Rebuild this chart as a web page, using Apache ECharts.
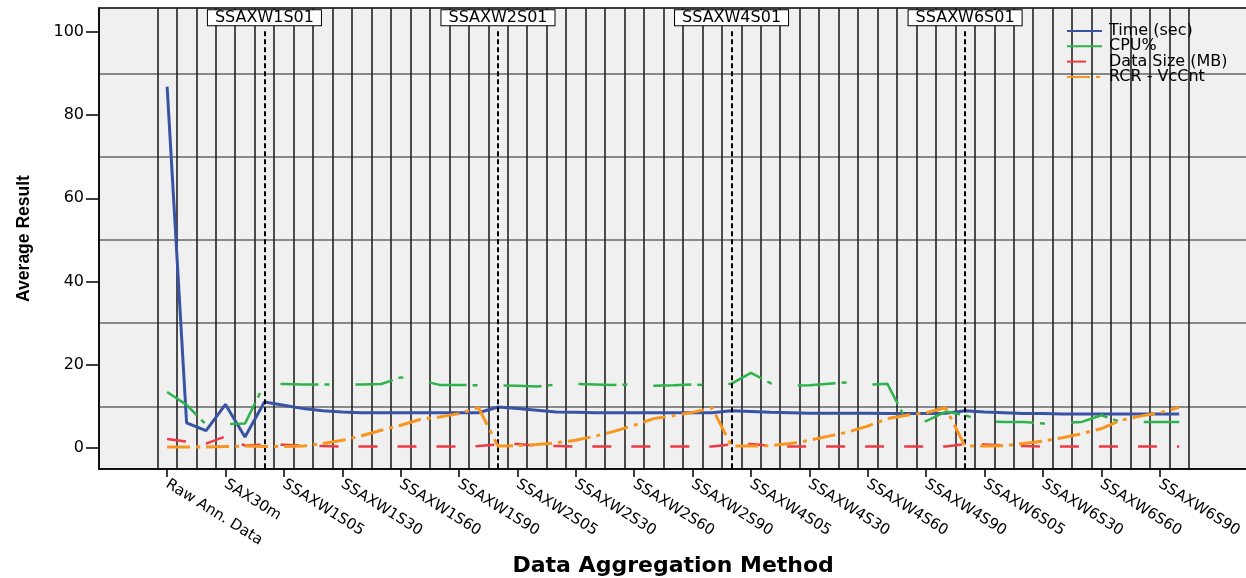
<!DOCTYPE html>
<html>
<head>
<meta charset="utf-8">
<script src="https://cdn.jsdelivr.net/npm/echarts@6/dist/echarts.min.js"></script>
<style>
html,body{margin:0;padding:0;background:#fff;}
#chart{width:1246px;height:578px;}
</style>
</head>
<body>
<div id="chart"></div>
<script>
// ---- data ----
const categories = [
  'Raw Ann. Data','SAX05m','SAX15m','SAX30m','SAX60m',
  'SSAXW1S01','SSAXW1S05','SSAXW1S10','SSAXW1S20','SSAXW1S30','SSAXW1S40','SSAXW1S50','SSAXW1S60','SSAXW1S70','SSAXW1S80','SSAXW1S90','SSAXW1S99',
  'SSAXW2S01','SSAXW2S05','SSAXW2S10','SSAXW2S20','SSAXW2S30','SSAXW2S40','SSAXW2S50','SSAXW2S60','SSAXW2S70','SSAXW2S80','SSAXW2S90','SSAXW2S99',
  'SSAXW4S01','SSAXW4S05','SSAXW4S10','SSAXW4S20','SSAXW4S30','SSAXW4S40','SSAXW4S50','SSAXW4S60','SSAXW4S70','SSAXW4S80','SSAXW4S90','SSAXW4S99',
  'SSAXW6S01','SSAXW6S05','SSAXW6S10','SSAXW6S20','SSAXW6S30','SSAXW6S40','SSAXW6S50','SSAXW6S60','SSAXW6S70','SSAXW6S80','SSAXW6S90','SSAXW6S99'
];
const timeSec = [
  86.8, 6.1, 4.2, 10.5, 2.7,
  11.1, 10.3, 9.5, 9.0, 8.7, 8.5, 8.5, 8.5, 8.5, 8.5, 8.5, 8.5,
  9.9, 9.5, 9.1, 8.7, 8.6, 8.5, 8.5, 8.5, 8.5, 8.5, 8.5, 8.5,
  9.0, 8.8, 8.6, 8.5, 8.4, 8.4, 8.4, 8.4, 8.3, 8.3, 8.3, 8.4,
  9.0, 8.7, 8.5, 8.3, 8.3, 8.2, 8.2, 8.2, 8.2, 8.2, 8.2, 8.2
];
const cpuPct = [
  13.5, 10.4, 5.7, 5.8, 5.9,
  15.4, 15.4, 15.3, 15.3, 15.3, 15.3, 15.4, 17.0, 16.3, 15.2, 15.2, 15.1,
  15.1, 15.0, 14.8, 15.3, 15.4, 15.3, 15.2, 15.3, 15.0, 15.1, 15.3, 15.1,
  15.5, 18.1, 15.6, 15.0, 15.1, 15.5, 15.8, 15.2, 15.5, 6.5, 6.5, 8.8,
  7.9, 6.4, 6.3, 6.3, 5.9, 6.1, 6.3, 7.9, 6.3, 6.3, 6.3, 6.3
];
const dataSizeMB = [
  2.2, 1.6, 1.1, 2.8, 0.6,
  0.9, 0.8, 0.6, 0.5, 0.4, 0.4, 0.4, 0.4, 0.4, 0.4, 0.4, 0.5,
  0.9, 1.0, 0.6, 0.5, 0.4, 0.4, 0.4, 0.4, 0.4, 0.4, 0.4, 0.4,
  0.9, 1.0, 0.6, 0.4, 0.4, 0.4, 0.4, 0.4, 0.4, 0.4, 0.4, 0.4,
  1.0, 0.9, 0.7, 0.5, 0.4, 0.4, 0.4, 0.4, 0.4, 0.4, 0.4, 0.4
];
const rcrVcCnt = [
  0.3, 0.3, 0.3, 0.4, 0.5,
  0.4, 0.4, 0.5, 1.1, 1.9, 3.0, 4.3, 5.5, 6.9, 7.5, 8.3, 9.7,
  0.5, 0.6, 0.9, 1.3, 1.9, 2.9, 4.1, 5.5, 7.1, 7.8, 8.6, 9.7,
  0.5, 0.5, 0.6, 1.1, 1.9, 2.9, 3.9, 5.3, 7.1, 7.9, 8.5, 9.7,
  0.5, 0.5, 0.6, 1.1, 1.7, 2.5, 3.5, 4.7, 6.7, 7.7, 8.5, 9.8
];
const seriesNames = ['Time (sec)', 'CPU%', 'Data Size (MB)', 'RCR - VcCnt'];
const markerCategories = ['SSAXW1S01', 'SSAXW2S01', 'SSAXW4S01', 'SSAXW6S01'];
const yTickValues = [0, 20, 40, 60, 80, 100];
const yGridValues = [10, 30, 50, 70, 90];

// ---- layout ----
const PAD = 3;
const BAND = 19.463;
const GRID_LEFT = 99, GRID_TOP = 8, GRID_H = 461;
const Y_MIN = -5, Y_MAX = 105.7;
const axisCats = [];
for (let i = 0; i < PAD; i++) axisCats.push('padL' + i);
categories.forEach(c => axisCats.push(c));
for (let i = 0; i < PAD; i++) axisCats.push('padR' + i);
const nReal = categories.length;
const GRID_W = BAND * (nReal + 2 * PAD);
const labelIdx = (idx) => idx >= PAD && idx < PAD + nReal && (idx - PAD) % 3 === 0;
const yPix = v => GRID_TOP + (Y_MAX - v) / (Y_MAX - Y_MIN) * GRID_H;
// overlay grid used only to draw the horizontal grid lines between the ticks
const gLo = Math.min(...yGridValues), gHi = Math.max(...yGridValues);
const gStep = yGridValues[1] - yGridValues[0];

const toPairs = arr => categories.map((c, i) => [c, arr[i]]);
const font = 'DejaVu Sans';

const chart = echarts.init(document.getElementById('chart'), null, {renderer: 'canvas'});
chart.setOption({
  animation: false,
  backgroundColor: '#fff',
  grid: [
    {
      left: GRID_LEFT, top: GRID_TOP, width: GRID_W, height: GRID_H,
      outerBoundsMode: 'none', containLabel: false,
      show: true, backgroundColor: '#F0F0F0', borderColor: '#000', borderWidth: 1.5
    },
    {
      left: GRID_LEFT, top: yPix(gHi), width: GRID_W, height: yPix(gLo) - yPix(gHi),
      outerBoundsMode: 'none', containLabel: false,
      show: false
    }
  ],
  legend: {
    orient: 'vertical', left: 1066, top: 23, padding: 0,
    itemWidth: 35, itemHeight: 12, itemGap: -0.7,
    itemStyle: {opacity: 0},
    textStyle: {fontFamily: font, fontSize: 16, color: '#000', padding: [0, 0, 0, 2]},
    data: seriesNames
  },
  xAxis: [
    {
      type: 'category', data: axisCats, boundaryGap: true,
      name: 'Data Aggregation Method', nameLocation: 'middle', nameGap: 86,
      nameTextStyle: {fontFamily: font, fontWeight: 'bold', fontSize: 22, color: '#000'},
      axisLine: {show: true, onZero: false, lineStyle: {color: '#000', width: 1.5}},
      axisTick: {show: true, alignWithLabel: true, length: 8, interval: (i) => labelIdx(i), lineStyle: {color: '#000', width: 1.5}},
      axisLabel: {interval: (i) => labelIdx(i), rotate: -32, margin: 14, fontFamily: font, fontSize: 15, color: '#000'},
      splitLine: {show: true, interval: (i) => i >= PAD && i <= PAD + nReal, lineStyle: {color: '#222', width: 1.6}}
    },
    {
      type: 'value', gridIndex: 1, show: false, min: 0, max: 1
    }
  ],
  yAxis: [
    {
      type: 'value', min: Y_MIN, max: Y_MAX,
      name: 'Average Result', nameLocation: 'middle', nameGap: 66, nameRotate: 90,
      nameTextStyle: {fontFamily: '"Liberation Sans", Arial, sans-serif', fontWeight: 'bold', fontSize: 17.5, color: '#000'},
      axisLine: {show: true, lineStyle: {color: '#000', width: 1.5}},
      axisTick: {show: true, customValues: yTickValues, length: 13, lineStyle: {color: '#000', width: 1.5}},
      axisLabel: {customValues: yTickValues, margin: 15, fontFamily: font, fontSize: 16, color: '#000'},
      splitLine: {show: false}
    },
    {
      type: 'value', gridIndex: 1, min: 0, max: gHi - gLo, interval: gStep,
      axisLine: {show: false}, axisTick: {show: false}, axisLabel: {show: false},
      splitLine: {show: true, lineStyle: {color: '#666', width: 1.5}}
    }
  ],
  series: [
    {
      name: seriesNames[0], type: 'line', data: toPairs(timeSec), symbol: 'none',
      lineStyle: {color: '#3953A4', width: 3, type: 'solid'}, itemStyle: {color: '#3953A4'},
      z: 2
    },
    {
      name: seriesNames[1], type: 'line', data: toPairs(cpuPct), symbol: 'none',
      lineStyle: {color: '#2EB34B', width: 2.5, type: [38, 6, 5, 26]}, itemStyle: {color: '#2EB34B'},
      z: 3
    },
    {
      name: seriesNames[2], type: 'line', data: toPairs(dataSizeMB), symbol: 'none',
      lineStyle: {color: '#EE3A43', width: 2.5, type: [19, 20]}, itemStyle: {color: '#EE3A43'},
      z: 4
    },
    {
      name: seriesNames[3], type: 'line', data: toPairs(rcrVcCnt), symbol: 'none',
      lineStyle: {color: '#F7951F', width: 3, type: [23, 6, 4, 6]}, itemStyle: {color: '#F7951F'},
      z: 5,
      markLine: {
        silent: true, symbol: ['none', 'none'], animation: false,
        lineStyle: {color: '#000', width: 2, type: [5, 3]},
        label: {
          show: true, position: 'start', formatter: '{b}', distance: 6,
          backgroundColor: '#fff', borderColor: '#000', borderWidth: 1,
          padding: [1, 7, 0, 7], fontFamily: font, fontSize: 16, lineHeight: 14, color: '#000'
        },
        emphasis: {disabled: true},
        data: markerCategories.map(m => [
          {name: m, xAxis: m, yAxis: 100.1},
          {xAxis: m, yAxis: Y_MIN}
        ])
      }
    }
  ]
});
</script>
</body>
</html>
